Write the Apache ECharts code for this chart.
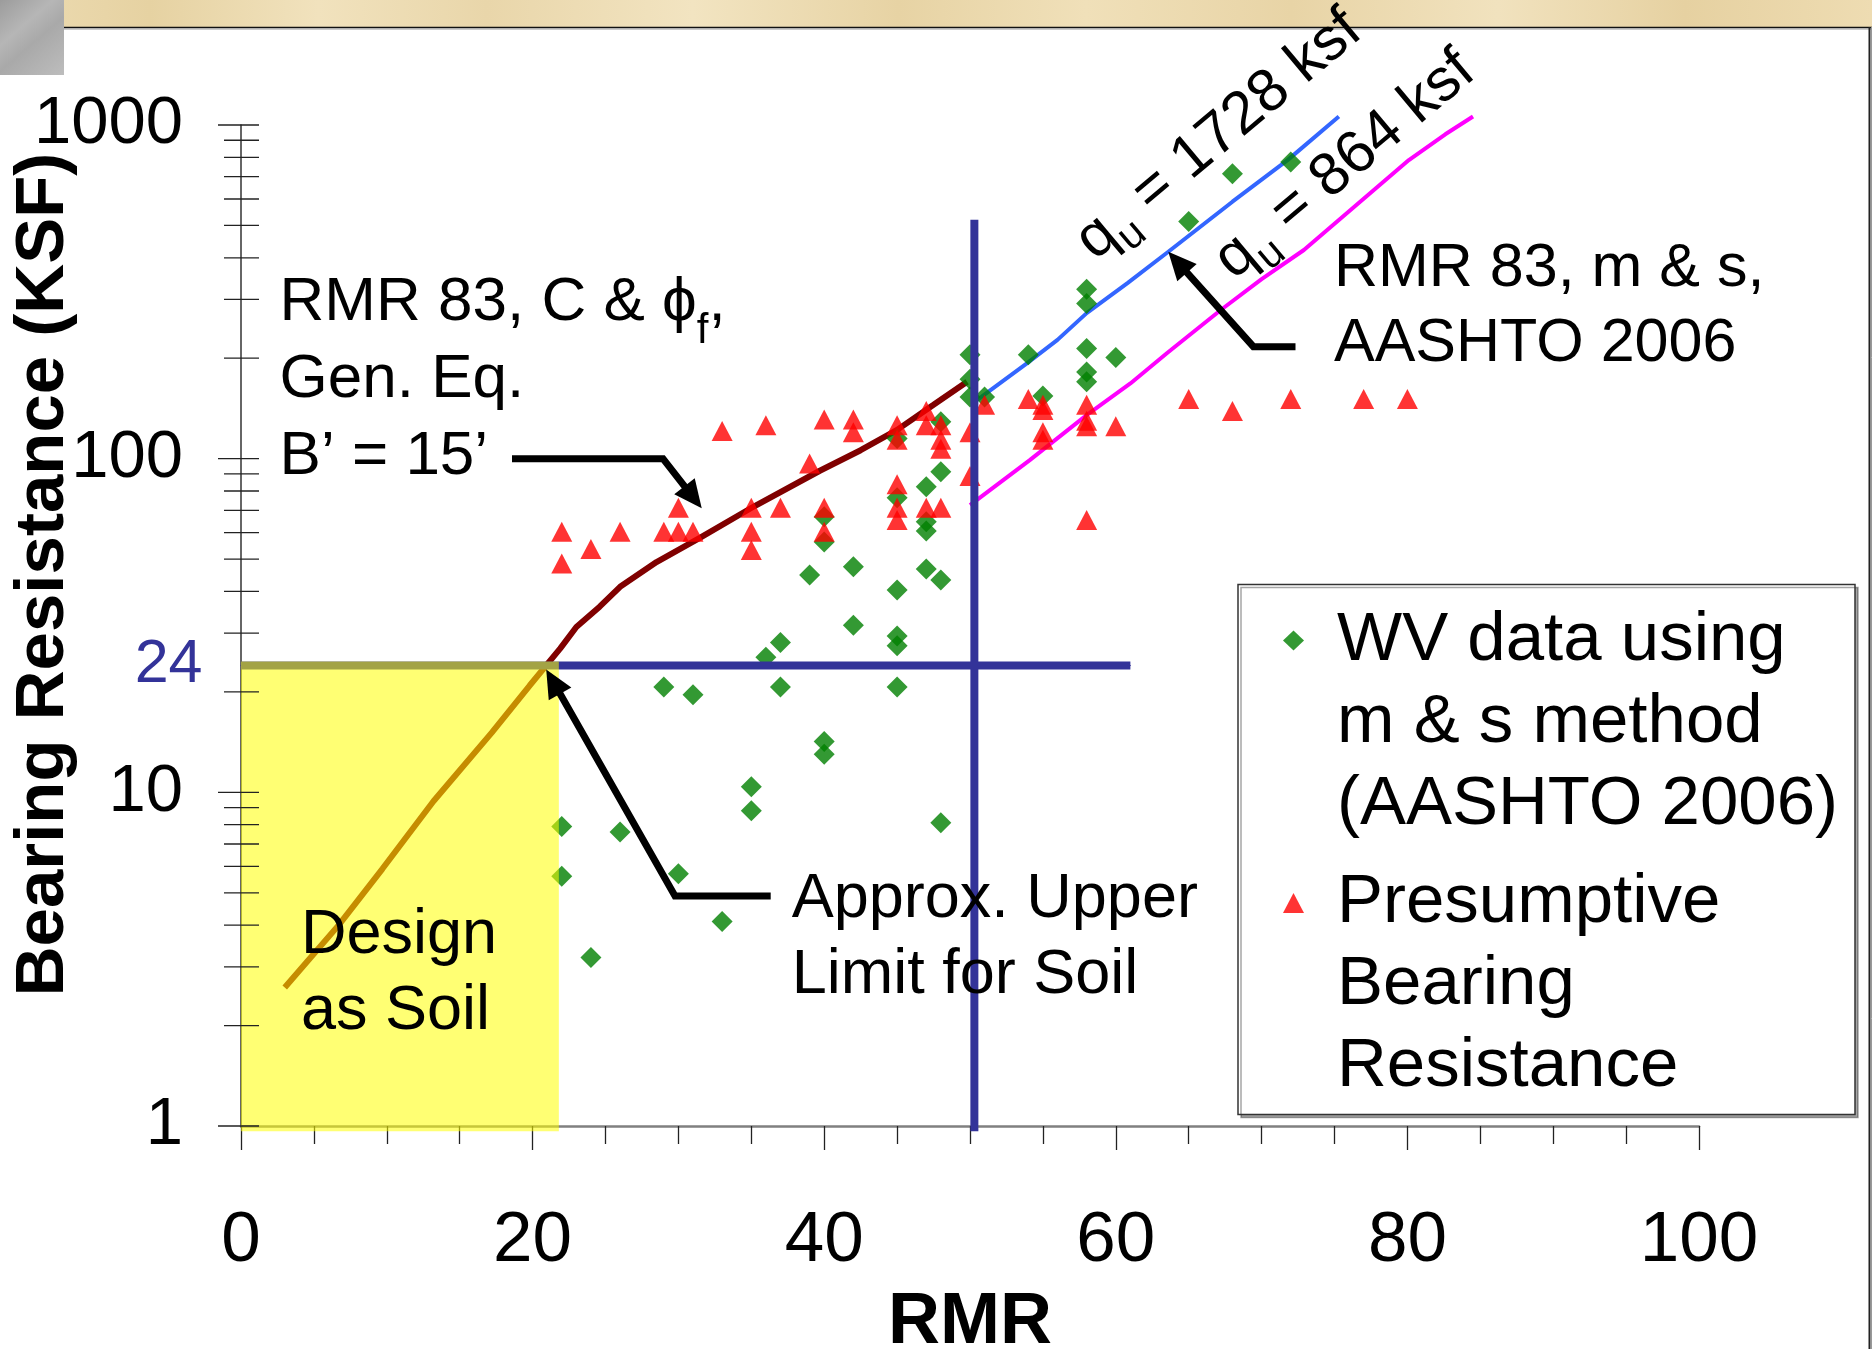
<!DOCTYPE html>
<html>
<head>
<meta charset="utf-8">
<title>Bearing Resistance vs RMR</title>
<script src="https://cdn.jsdelivr.net/npm/echarts@6/dist/echarts.min.js"></script>
<style>
  html, body { margin: 0; padding: 0; background: #ffffff; }
  #chart { width: 1872px; height: 1349px; }
</style>
</head>
<body>
<div id="chart"></div>
<script>
// ---- Axis ticks ----
const rmrTicks = [0, 20, 40, 60, 80, 100];
const bearingTicks = [1, 10, 100, 1000];
const bearingMinorTicks = [2, 3, 4, 5, 6, 7, 8, 9, 20, 30, 40, 50, 60, 70, 80, 90,
                           200, 300, 400, 500, 600, 700, 800, 900];

// ---- WV data using m & s method (AASHTO 2006): [RMR, bearing resistance ksf] ----
const wvMethodData = [
  [22, 7.9], [22, 5.6], [24, 3.2], [26, 7.6], [30, 5.7], [33, 4.1],
  [29, 20.7], [31, 19.6], [35, 10.4], [35, 8.8], [36, 25.4], [37, 28.1], [37, 20.7],
  [39, 44.8], [40, 14.2], [40, 13.0], [40, 67], [40, 56.3], [42, 47.4], [42, 31.7],
  [45, 40.4], [45, 29.4], [45, 27.5], [45, 20.7], [45, 76.3], [45, 115],
  [47, 46.7], [47, 64.7], [47, 60.7], [47, 82.4],
  [48, 43.3], [48, 91.3], [48, 129], [48, 8.1],
  [50, 205], [50, 173], [50, 153], [51, 153], [54, 205], [55, 154],
  [58, 322], [58, 292], [58, 214], [58, 182], [58, 170], [60, 201],
  [65, 514], [68, 714], [72, 775]
];

// ---- Presumptive bearing resistance: [RMR, ksf] ----
const presumptiveData = [
  [22, 60.4], [22, 48.5], [24, 53.6], [26, 60.4], [29, 60.4], [30, 60.4], [31, 60.4],
  [30, 71.3], [33, 121], [36, 126], [35, 71.3], [35, 60.4], [35, 53.2], [37, 71.3],
  [39, 96.8], [40, 131], [40, 71.3], [40, 60.4], [42, 131], [42, 120],
  [45, 126], [45, 114], [45, 83.8], [45, 71.3], [45, 65.5],
  [47, 139], [47, 126], [47, 71.3], [48, 126], [48, 114], [48, 107], [48, 71.3],
  [50, 120], [50, 88.7], [51, 145], [54, 151], [55, 145], [55, 140], [55, 120], [55, 114],
  [58, 145], [58, 130], [58, 125], [60, 125], [58, 65.5],
  [65, 151], [68, 139], [72, 151], [77, 151], [80, 151]
];

// ---- RMR 83, C & phi_f, general equation, B' = 15' ----
const genEqCurve = [
  [3, 2.6], [6.7, 4.0], [9.7, 5.9], [13.2, 9.4], [17.2, 15.1], [19.8, 20.9],
  [21.9, 27], [23, 31.3], [24.6, 36], [26, 41.3], [28.5, 49], [31.5, 58],
  [35.2, 72], [39.7, 92], [42.5, 106], [45, 122], [47.5, 145], [49.8, 170]
];

// ---- RMR 83, m & s, AASHTO 2006 ----
const qu1728Line = [
  [50.5, 150], [53.9, 193], [56, 227], [58, 273], [60.8, 336], [63.6, 417],
  [68, 589], [71.8, 786], [75.3, 1060]
];
const qu864Line = [
  [50, 72.6], [54.1, 99], [58, 135], [61, 168], [63.5, 207], [67.2, 279],
  [70, 345], [72.9, 422], [80.1, 785], [82.6, 938], [84.5, 1060]
];

// ---- Soil / rock boundaries ----
const soilLimit = 24;          // ksf, upper limit for soil design
const soilLimitRmrMax = 61;    // RMR where the limit line stops
const soilZoneRmrMax = 21.8;   // "Design as Soil" zone
const rmrBoundary = 50.3;
const rmrBoundaryTop = 520;
const axisFloor = 0.965;

// Arrow targets in data space
const genEqArrowTip = [31.6, 71];
const mAndSArrowTip = [63.6, 417];

const WV_NAME = 'WV data using m & s method (AASHTO 2006)';
const PRESUMPTIVE_NAME = 'Presumptive Bearing Resistance';
// two empty lines on top keep the marker beside the first text line
const legendLines = {};
legendLines[WV_NAME] = '\n\nWV data using\nm & s method\n(AASHTO 2006)';
legendLines[PRESUMPTIVE_NAME] = '\n\nPresumptive\nBearing\nResistance';

const FONT = "'Liberation Sans', Arial, 'DejaVu Sans', sans-serif";
const LIMIT_BLUE = '#333399';

const chart = echarts.init(document.getElementById('chart'), null, { width: 1872, height: 1349 });

const option = {
  backgroundColor: '#ffffff',
  animation: false,
  textStyle: { fontFamily: FONT },
  grid: { left: 241, right: 173, top: 125, bottom: 223, containLabel: false, outerBoundsMode: 'none' },
  legend: {
    data: [WV_NAME, PRESUMPTIVE_NAME],
    orient: 'vertical',
    left: 1283,
    top: 435.5,
    padding: 0,
    itemGap: -147.5,
    itemWidth: 21,
    itemHeight: 20,
    selectedMode: false,
    z: 10,
    formatter: function (name) { return legendLines[name]; },
    textStyle: {
      fontSize: 69, lineHeight: 82, color: '#000', fontFamily: FONT,
      padding: [0, 0, 0, 28]
    }
  },
  xAxis: {
    type: 'value',
    min: rmrTicks[0],
    max: rmrTicks[rmrTicks.length - 1],
    interval: rmrTicks[1] - rmrTicks[0],
    name: 'RMR',
    nameLocation: 'middle',
    nameGap: 161,
    nameTextStyle: { fontSize: 72, fontWeight: 'bold', color: '#000', fontFamily: FONT },
    axisLine: { lineStyle: { color: '#808080', width: 2.5 } },
    axisTick: { length: 24, lineStyle: { color: '#222', width: 1.3 } },
    minorTick: { show: true, splitNumber: 4, length: 18, lineStyle: { color: '#222', width: 1.3 } },
    axisLabel: { fontSize: 71, color: '#000', margin: 80, fontFamily: FONT },
    splitLine: { show: false },
    minorSplitLine: { show: false }
  },
  yAxis: {
    type: 'log',
    logBase: 10,
    min: bearingTicks[0],
    max: bearingTicks[bearingTicks.length - 1],
    axisLine: { show: true, lineStyle: { color: '#333', width: 1.5 } },
    axisTick: { show: false },
    axisLabel: {
      fontSize: 67, color: '#000', margin: 58, fontFamily: FONT,
      formatter: function (v) { return String(v); }
    },
    splitLine: { show: false }
  },
  series: [
    {
      name: 'RMR 83, C & phi_f, Gen. Eq., B = 15 ft',
      type: 'line', data: genEqCurve, symbol: 'none', silent: true, clip: false, z: 2,
      lineStyle: { color: '#800000', width: 6 }
    },
    {
      name: 'qu = 1728 ksf',
      type: 'line', data: qu1728Line, symbol: 'none', silent: true, clip: false, z: 2,
      lineStyle: { color: '#3366ff', width: 4 }
    },
    {
      name: 'qu = 864 ksf',
      type: 'line', data: qu864Line, symbol: 'none', silent: true, clip: false, z: 2,
      lineStyle: { color: '#ff00ff', width: 4 }
    },
    {
      name: WV_NAME,
      type: 'scatter', data: wvMethodData, symbol: 'diamond', symbolSize: 21, z: 3,
      itemStyle: { color: '#008000' }
    },
    {
      name: PRESUMPTIVE_NAME,
      type: 'scatter', data: presumptiveData, symbol: 'triangle', symbolSize: [21, 20], z: 4,
      itemStyle: { color: '#ff0000' }
    },
    {
      name: 'Soil limit',
      type: 'line',
      data: [
        { value: [0, soilLimit], label: { show: true } },
        [soilLimitRmrMax, soilLimit]
      ],
      symbol: 'circle', symbolSize: 1, showSymbol: true, silent: true, clip: false, z: 5,
      itemStyle: { color: LIMIT_BLUE },
      lineStyle: { color: LIMIT_BLUE, width: 8 },
      label: {
        show: false, position: 'left', distance: 38,
        fontSize: 61, color: LIMIT_BLUE, fontFamily: FONT,
        formatter: function (p) { return String(p.value[1]); }
      }
    },
    {
      name: 'RMR boundary',
      type: 'line',
      data: [[rmrBoundary, axisFloor], [rmrBoundary, rmrBoundaryTop]],
      symbol: 'none', silent: true, clip: false, z: 5,
      lineStyle: { color: LIMIT_BLUE, width: 8 }
    },
    {
      name: 'Design as Soil zone',
      type: 'custom', silent: true, clip: false, z: 6,
      data: [[0, axisFloor, soilZoneRmrMax, soilLimit]],
      renderItem: function (params, api) {
        const p0 = api.coord([api.value(0), api.value(1)]);
        const p1 = api.coord([api.value(2), api.value(3)]);
        return {
          type: 'rect',
          shape: { x: p0[0], y: p1[1] - 4, width: p1[0] - p0[0], height: p0[1] - p1[1] + 4 },
          style: { fill: 'rgba(255, 255, 0, 0.55)' }
        };
      }
    },
    {
      name: 'Log ticks',
      type: 'custom', silent: true, clip: false, z: 7,
      data: bearingTicks.map(function (v) { return [0, v, 1]; })
        .concat(bearingMinorTicks.map(function (v) { return [0, v, 0]; })),
      renderItem: function (params, api) {
        const p = api.coord([api.value(0), api.value(1)]);
        const major = api.value(2) === 1;
        return {
          type: 'line',
          shape: { x1: p[0] - (major ? 23 : 17), y1: p[1], x2: p[0] + 18, y2: p[1] },
          style: { stroke: '#222', lineWidth: 1.3 }
        };
      }
    }
  ]
};

chart.setOption(option);

// ---- Annotations ----
function rmrAtValue(curve, v) {
  for (let i = 1; i < curve.length; i++) {
    const a = curve[i - 1], b = curve[i];
    if ((a[1] - v) * (b[1] - v) <= 0) {
      const t = (Math.log10(v) - Math.log10(a[1])) / (Math.log10(b[1]) - Math.log10(a[1]));
      return a[0] + t * (b[0] - a[0]);
    }
  }
  return curve[0][0];
}

function toPx(pt) { return chart.convertToPixel({ gridIndex: 0 }, pt); }

function arrow(points, headLen, headHalf) {
  const tip = points[points.length - 1];
  const prev = points[points.length - 2];
  const dx = tip[0] - prev[0], dy = tip[1] - prev[1];
  const len = Math.hypot(dx, dy);
  const ux = dx / len, uy = dy / len;
  const base = [tip[0] - ux * headLen, tip[1] - uy * headLen];
  const shaft = points.slice(0, -1).concat([[tip[0] - ux * (headLen - 4), tip[1] - uy * (headLen - 4)]]);
  return [
    {
      type: 'polyline', z: 30, silent: true,
      shape: { points: shaft },
      style: { stroke: '#000', lineWidth: 7, fill: null, lineJoin: 'miter' }
    },
    {
      type: 'polygon', z: 31, silent: true,
      shape: { points: [tip,
        [base[0] - uy * headHalf, base[1] + ux * headHalf],
        [base[0] + uy * headHalf, base[1] - ux * headHalf]] },
      style: { fill: '#000' }
    }
  ];
}

function plainText(x, top, text, size, lineHeight) {
  return {
    type: 'text', x: x, y: top, z: 30, silent: true,
    style: {
      text: text, fill: '#000', fontSize: size, fontFamily: FONT,
      lineHeight: lineHeight, align: 'left', verticalAlign: 'top'
    }
  };
}

function subLabel(cx, cy, main, sub, rest, deg) {
  return {
    type: 'text', x: cx, y: cy, rotation: deg * Math.PI / 180, z: 30, silent: true,
    style: {
      text: '{m|' + main + '}{s|' + sub + '}{m|' + rest + '}',
      align: 'center', verticalAlign: 'middle',
      rich: {
        m: { fontSize: 60, fontFamily: FONT, fill: '#000', lineHeight: 72, verticalAlign: 'top' },
        s: { fontSize: 42, fontFamily: FONT, fill: '#000', lineHeight: 42, verticalAlign: 'top', padding: [30, 0, 0, 0] }
      }
    }
  };
}

const soilCross = toPx([rmrAtValue(genEqCurve, soilLimit), soilLimit]);
const genEqTip = toPx(genEqArrowTip);
const mAndSTip = toPx(mAndSArrowTip);

const bandGradient = new echarts.graphic.LinearGradient(0, 0, 1, 0, [
  { offset: 0.00, color: '#eddcb3' }, { offset: 0.08, color: '#e6d2a2' },
  { offset: 0.17, color: '#f1e2bd' }, { offset: 0.26, color: '#e9d6aa' },
  { offset: 0.37, color: '#f2e4c1' }, { offset: 0.48, color: '#e7d3a4' },
  { offset: 0.58, color: '#f0e0b9' }, { offset: 0.69, color: '#e8d4a6' },
  { offset: 0.80, color: '#f1e2be' }, { offset: 0.90, color: '#e6d1a1' },
  { offset: 1.00, color: '#eedcb2' }
]);
const cornerGradient = new echarts.graphic.LinearGradient(0, 0, 1, 1, [
  { offset: 0, color: '#9c9c9c' }, { offset: 0.35, color: '#b6b6b6' },
  { offset: 0.55, color: '#a9a9a9' }, { offset: 1, color: '#bdbdbd' }
]);

const graphics = [
  // slide frame
  { type: 'rect', z: 0, silent: true, shape: { x: 0, y: 0, width: 1872, height: 27 }, style: { fill: bandGradient } },
  { type: 'line', z: 1, silent: true, shape: { x1: 64, y1: 27.5, x2: 1872, y2: 27.5 }, style: { stroke: '#111', lineWidth: 1.5 } },
  { type: 'line', z: 1, silent: true, shape: { x1: 64, y1: 29, x2: 1872, y2: 29 }, style: { stroke: '#9a9a9a', lineWidth: 1 } },
  { type: 'line', z: 1, silent: true, shape: { x1: 1869.5, y1: 27, x2: 1869.5, y2: 1349 }, style: { stroke: '#222', lineWidth: 2 } },
  { type: 'line', z: 1, silent: true, shape: { x1: 1871.5, y1: 27, x2: 1871.5, y2: 1349 }, style: { stroke: '#999', lineWidth: 1 } },
  { type: 'rect', z: 2, silent: true, shape: { x: 0, y: 0, width: 64, height: 75 }, style: { fill: cornerGradient } },

  // legend frame
  {
    type: 'rect', z: 1, silent: true,
    shape: { x: 1238, y: 584.5, width: 617, height: 530 },
    style: { fill: '#fff', stroke: '#333', lineWidth: 1.5, shadowColor: 'rgba(0,0,0,0.35)', shadowOffsetX: 3, shadowOffsetY: 3 }
  },

  // y axis title
  {
    type: 'text', x: 44, y: 574.5, rotation: Math.PI / 2, z: 30, silent: true,
    style: {
      text: 'Bearing Resistance (KSF)', fill: '#000', fontSize: 69, fontWeight: 'bold',
      fontFamily: FONT, align: 'center', verticalAlign: 'middle'
    }
  },

  // annotations
  {
    type: 'text', x: 279.6, y: 271.8, z: 30, silent: true,
    style: {
      text: '{m|RMR 83, C & ϕ}{s|f}{m|,}\n{m|Gen. Eq.}\n{m|B’ = 15’}',
      align: 'left', verticalAlign: 'top',
      rich: {
        m: { fontSize: 62, fontFamily: FONT, fill: '#000', lineHeight: 77, verticalAlign: 'top' },
        s: { fontSize: 42, fontFamily: FONT, fill: '#000', lineHeight: 38, verticalAlign: 'top', padding: [39, 0, 0, 0] }
      }
    }
  },
  plainText(1334, 231.7, 'RMR 83, m & s,\nAASHTO 2006', 61, 75),
  plainText(791.7, 861.6, 'Approx. Upper\nLimit for Soil', 63, 76),
  plainText(301, 897.5, 'Design\nas Soil', 63, 76),
  subLabel(1223, 140, 'q', 'u', ' = 1728 ksf', 40),
  subLabel(1349, 170, 'q', 'u', ' = 864 ksf', 40)
]
  .concat(arrow([[512, 458.7], [663, 458.7], genEqTip], 28, 13))
  .concat(arrow([[770.7, 896], [675, 896], [soilCross[0], soilCross[1] + 4]], 28, 13))
  .concat(arrow([[1295.5, 346.7], [1253.4, 346.7], mAndSTip], 28, 13));

chart.setOption({ graphic: graphics });
</script>
</body>
</html>
